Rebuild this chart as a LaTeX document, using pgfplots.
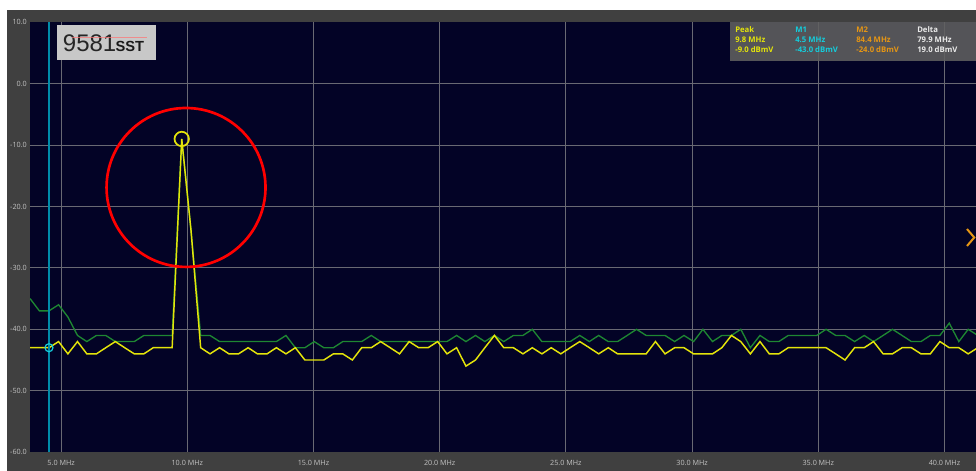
\documentclass[border=0pt]{standalone}
\usepackage{pgfplots}
\pgfplotsset{compat=1.18}
\usepackage{pgfplotstable}
\usepackage{fontspec}
\setmainfont{Open Sans}
\newfontfamily\logofont{Liberation Sans}
\definecolor{navy}{RGB}{3,3,38}
\definecolor{frame}{RGB}{64,64,64}
\definecolor{gridc}{RGB}{105,105,115}
\definecolor{trY}{RGB}{228,228,10}
\definecolor{trG}{RGB}{30,135,50}
\definecolor{mcyan}{RGB}{0,140,170}
\definecolor{lcyan}{RGB}{20,205,220}
\definecolor{morange}{RGB}{230,150,20}
\definecolor{tickc}{RGB}{195,195,195}
\definecolor{logobg}{RGB}{200,200,200}
\pgfplotstableread{
x y g
3.77 -43 -35
4.14 -43 -37
4.52 -43 -37
4.90 -42 -36
5.27 -44 -38
5.65 -42 -41
6.02 -44 -42
6.40 -44 -41
6.77 -43 -41
7.15 -42 -42
7.52 -43 -42
7.90 -44 -42
8.28 -44 -41
8.65 -43 -41
9.03 -43 -41
9.40 -43 -41
9.78 -9 -9
10.15 -24 -24
10.53 -43 -41
10.90 -44 -41
11.28 -43 -42
11.65 -44 -42
12.03 -44 -42
12.41 -43 -42
12.78 -44 -42
13.16 -44 -42
13.53 -43 -42
13.91 -44 -41
14.28 -43 -43
14.66 -45 -43
15.03 -45 -42
15.41 -45 -43
15.79 -44 -43
16.16 -44 -42
16.54 -45 -42
16.91 -43 -42
17.29 -43 -41
17.66 -42 -42
18.04 -43 -42
18.41 -44 -42
18.79 -42 -42
19.17 -43 -42
19.54 -43 -42
19.92 -42 -42
20.29 -44 -42
20.67 -43 -41
21.04 -46 -42
21.42 -45 -41
21.79 -43 -42
22.17 -41 -41
22.54 -43 -42
22.92 -43 -41
23.30 -44 -41
23.67 -43 -40
24.05 -44 -42
24.42 -43 -42
24.80 -44 -42
25.17 -43 -42
25.55 -42 -41
25.93 -43 -42
26.30 -44 -41
26.68 -43 -42
27.05 -44 -42
27.43 -44 -41
27.80 -44 -40
28.18 -44 -41
28.55 -42 -41
28.93 -44 -41
29.31 -43 -42
29.68 -43 -41
30.06 -44 -42
30.43 -44 -40
30.81 -44 -42
31.18 -43 -41
31.56 -41 -41
31.93 -42 -40
32.31 -44 -43
32.69 -42 -41
33.06 -44 -42
33.44 -44 -42
33.81 -43 -41
34.19 -43 -41
34.56 -43 -41
34.94 -43 -41
35.31 -43 -40
35.69 -44 -41
36.06 -45 -41
36.44 -43 -42
36.82 -43 -41
37.19 -42 -42
37.57 -44 -41
37.94 -44 -40
38.32 -43 -41
38.69 -43 -42
39.07 -44 -42
39.44 -44 -41
39.82 -42 -41
40.19 -43 -39
40.57 -43 -42
40.94 -44 -40
41.32 -43 -41
}\trace
\begin{document}
\begin{tikzpicture}
\fill[white] (-22.5pt,-14.175pt) rectangle (709.5pt,339.075pt);
\useasboundingbox (-22.5pt,-14.175pt) rectangle (709.5pt,339.075pt);
\fill[frame] (-17.25pt,-14.175pt) rectangle (709.5pt,331.575pt);
\begin{axis}[
  scale only axis,
  width=709.5pt, height=322.35pt,
  xmin=3.768, xmax=41.25, ymin=-60, ymax=10,
  axis background/.style={fill=navy},
  axis line style={draw=none},
  major tick length=0pt,
  xtick={5,10,15,20,25,30,35,40},
  xticklabels={5.0 MHz,10.0 MHz,15.0 MHz,20.0 MHz,25.0 MHz,30.0 MHz,35.0 MHz,40.0 MHz},
  ytick={-60,-50,-40,-30,-20,-10,0,10},
  yticklabels={-60.0,-50.0,-40.0,-30.0,-20.0,-10.0,0.0,10.0},
  xmajorgrids=true, ymajorgrids=false,
  extra y ticks={-50,-40,-30,-20,-10,0},
  extra y tick labels={},
  extra y tick style={ymajorgrids=true},
  major grid style={color=gridc, line width=0.75pt},
  xticklabel style={font=\fontsize{5.4pt}{6pt}\selectfont, text=tickc, anchor=center, inner sep=0pt, yshift=-7.8pt},
  yticklabel style={font=\fontsize{5.4pt}{6pt}\selectfont, text=tickc, anchor=east, inner sep=0pt, xshift=-2.2pt},
]
\addplot[trG, line width=1pt] table[x=x, y=g] {\trace};
\addplot[trY, line width=1.1pt] table[x=x, y=y] {\trace};
\addplot[mcyan, line width=1.5pt] coordinates {(4.52,-60) (4.52,10)};
\addplot[only marks, mark=o, mark size=3pt, mark options={lcyan, line width=0.9pt}] coordinates {(4.52,-43)};
\addplot[only marks, mark=o, mark size=5.4pt, mark options={trY, line width=1.3pt}] coordinates {(9.78,-9)};
\addplot[only marks, mark=o, mark size=59.6pt, mark options={red, line width=2pt}] coordinates {(9.95,-16.9)};
\end{axis}
% logo
\fill[logobg] (20.5pt,294.1pt) rectangle (94.3pt,320.3pt);
\node[anchor=base west, inner sep=0pt, text=black!85] at (24.5pt,300.1pt) {\logofont\fontsize{18pt}{18pt}\selectfont 9581};
\node[anchor=base west, inner sep=0pt, text=black!90] at (64pt,300.1pt) {\logofont\bfseries\fontsize{11pt}{11pt}\selectfont SST};
\draw[red!55!white, opacity=0.7, line width=0.6pt] (31.5pt,310.8pt) -- (87.75pt,310.8pt);
% marker readout box
\fill[gray!75!black, opacity=0.88] (525pt,293.1pt) rectangle (709.5pt,322.35pt);
\begin{scope}[every node/.style={anchor=west, inner sep=0pt, font=\bfseries\fontsize{5.8pt}{6pt}\selectfont}]
\node[text=trY] at (528.75pt,317.1pt) {Peak};
\node[text=trY] at (528.75pt,309.6pt) {9.8 MHz};
\node[text=trY] at (528.75pt,302.1pt) {-9.0 dBmV};
\node[text=lcyan] at (573.75pt,317.1pt) {M1};
\node[text=lcyan] at (573.75pt,309.6pt) {4.5 MHz};
\node[text=lcyan] at (573.75pt,302.1pt) {-43.0 dBmV};
\node[text=morange] at (619.5pt,317.1pt) {M2};
\node[text=morange] at (619.5pt,309.6pt) {84.4 MHz};
\node[text=morange] at (619.5pt,302.1pt) {-24.0 dBmV};
\node[text=white!92!black] at (665.25pt,317.1pt) {Delta};
\node[text=white!92!black] at (665.25pt,309.6pt) {79.9 MHz};
\node[text=white!92!black] at (665.25pt,302.1pt) {19.0 dBmV};
\end{scope}
% off-screen marker chevron
\draw[morange, line width=1.5pt] (702.75pt,167.3pt) -- (708.2pt,160.95pt) -- (702.75pt,154.6pt);
\end{tikzpicture}
\end{document}
